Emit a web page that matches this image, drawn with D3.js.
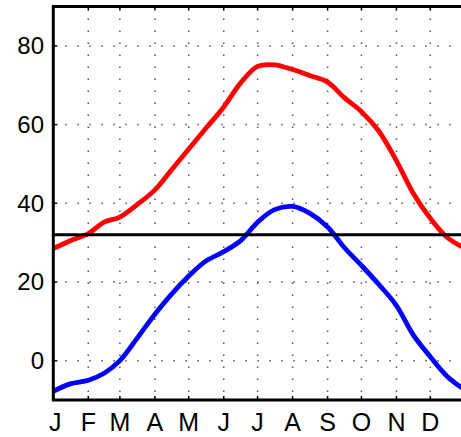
<!DOCTYPE html>
<html>
<head>
<meta charset="utf-8">
<script src="https://cdn.jsdelivr.net/npm/d3@7"></script>
<style>
  html, body { margin: 0; padding: 0; background: #fff; }
  svg { display: block; }
  text { font-family: "Liberation Sans", Arial, sans-serif; fill: #000; }
</style>
</head>
<body>
<svg id="chart" width="461" height="437"></svg>
<script>
// ---- data ----
const monthLabels = ["J","F","M","A","M","J","J","A","S","O","N","D"];
const monthStartDays = [0,31,59,90,120,151,181,212,243,273,304,334];
const yTicks = [0,20,40,60,80];
const freezing = 32;
const days = [0,15,31,45,59,74,90,105,120,135,151,166,181,196,212,227,243,258,273,288,304,319,334,349,365];
const tMax = [28.5,30.5,32.3,35.2,36.5,39.6,43.4,48.6,53.8,59,64.5,70.6,74.8,75.2,74,72.5,70.8,66.8,63.3,58.5,50.8,42.5,36.2,31.3,28.5];
const tMin = [-7.8,-5.9,-5,-3.2,0,5.6,11.8,17,21.5,25.3,27.7,30.5,35.2,38.4,39.2,37.5,34,28.7,24.2,19.5,14,6.5,1,-4,-7.5];

(function () {
  const svg = d3.select("#chart");
  const pLeft = 53.3, pRight = 465.3, pTop = 6.6, pBottom = 400;
  const x = d3.scaleLinear().domain([0,365]).range([pLeft, pRight]);
  const y = d3.scaleLinear().domain([-10,90]).range([pBottom, pTop]);

  // grid
  const grid = svg.append("g");
  grid.selectAll("line.v").data(monthStartDays.slice(1)).join("line")
    .attr("class", "v")
    .attr("x1", d => x(d)).attr("x2", d => x(d))
    .attr("y1", pTop).attr("y2", pBottom)
    .attr("stroke", "#555").attr("stroke-width", 1.5)
    .attr("stroke-dasharray", "1.5,10.5");
  grid.selectAll("line.h").data(yTicks).join("line")
    .attr("class", "h")
    .attr("x1", pLeft).attr("x2", 461)
    .attr("y1", d => y(d)).attr("y2", d => y(d))
    .attr("stroke", "#555").attr("stroke-width", 1.5)
    .attr("stroke-dasharray", "1.5,10.5");

  // ticks (inward)
  const ticks = svg.append("g").attr("stroke", "#000").attr("stroke-width", 1.5);
  monthStartDays.slice(1).forEach(d => {
    ticks.append("line").attr("x1", x(d)).attr("x2", x(d)).attr("y1", pTop).attr("y2", pTop + 4);
    ticks.append("line").attr("x1", x(d)).attr("x2", x(d)).attr("y1", pBottom).attr("y2", pBottom - 4);
  });
  yTicks.forEach(v => {
    ticks.append("line").attr("x1", pLeft).attr("x2", pLeft + 4).attr("y1", y(v)).attr("y2", y(v));
  });

  // series
  const line = d3.line().x((d, i) => x(days[i])).y(d => y(d)).curve(d3.curveCatmullRom.alpha(0.5));
  svg.append("path").datum(tMax).attr("d", line)
    .attr("fill", "none").attr("stroke", "#ff0000").attr("stroke-width", 4.8)
    .attr("stroke-linejoin", "round");
  svg.append("path").datum(tMin).attr("d", line)
    .attr("fill", "none").attr("stroke", "#0000ff").attr("stroke-width", 4.8)
    .attr("stroke-linejoin", "round");

  // freezing line
  svg.append("line")
    .attr("x1", pLeft).attr("x2", 461)
    .attr("y1", y(freezing)).attr("y2", y(freezing))
    .attr("stroke", "#000").attr("stroke-width", 3);

  // frame
  svg.append("path")
    .attr("d", `M461,${pTop} L${pLeft},${pTop} L${pLeft},${pBottom} L461,${pBottom}`)
    .attr("fill", "none").attr("stroke", "#000").attr("stroke-width", 3);

  // y labels
  svg.append("g").selectAll("text").data(yTicks).join("text")
    .attr("x", 44).attr("y", d => y(d) + 8.5)
    .attr("text-anchor", "end")
    .style("font-size", "24px")
    .text(d => d);

  // x labels
  svg.append("g").selectAll("text").data(monthLabels).join("text")
    .attr("x", (d, i) => x(monthStartDays[i]) + (i === 0 ? 2 : 0))
    .attr("y", 431)
    .attr("text-anchor", "middle")
    .style("font-size", "25px")
    .text(d => d);
})();
</script>
</body>
</html>
